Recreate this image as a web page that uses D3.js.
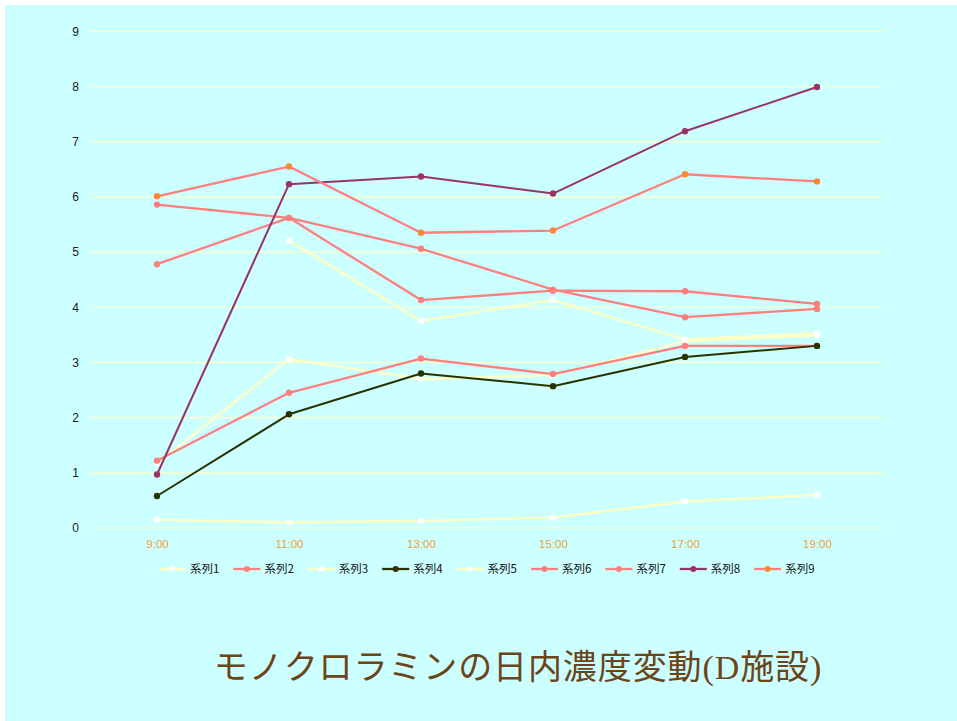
<!DOCTYPE html>
<html>
<head>
<meta charset="utf-8">
<script src="https://cdn.jsdelivr.net/npm/d3@7"></script>
<style>
  html, body { margin: 0; padding: 0; background: #ffffff; }
  svg { display: block; }
</style>
</head>
<body>
<svg id="chart" width="957" height="721"></svg>
<script>
// Time of day (categories)
const times = ["9:00", "11:00", "13:00", "15:00", "17:00", "19:00"];
const yTicks = [0, 1, 2, 3, 4, 5, 6, 7, 8, 9];

// Monochloramine concentration per series
const s1 = [1.17, 3.06, 2.70, 2.77, 3.38, 3.49];
const s2 = [1.22, 2.45, 3.07, 2.79, 3.30, 3.30];
const s3 = [null, 5.21, 3.75, 4.13, 3.42, 3.53];
const s4 = [0.58, 2.06, 2.80, 2.57, 3.10, 3.30];
const s5 = [0.15, 0.10, 0.13, 0.19, 0.48, 0.60];
const s6 = [5.86, 5.62, 5.06, 4.32, 3.82, 3.97];
const s7 = [4.78, 5.62, 4.13, 4.30, 4.29, 4.06];
const s8 = [0.97, 6.23, 6.37, 6.06, 7.19, 7.99];
const s9 = [6.01, 6.55, 5.35, 5.39, 6.41, 6.28];

const seriesNames = ["系列1", "系列2", "系列3", "系列4", "系列5", "系列6", "系列7", "系列8", "系列9"];
const seriesValues = [s1, s2, s3, s4, s5, s6, s7, s8, s9];
const lineColors   = ["#ffffc4", "#ff7f7f", "#ffffc4", "#2a3300", "#ffffc4", "#ff7f7f", "#ff7f7f", "#993366", "#ff7f7f"];
const markerColors = ["#ffffff", "#ff7f7f", "#ffffff", "#2a3300", "#ffffff", "#ff7f7f", "#ff7f7f", "#993366", "#ff8a33"];

// Title pieces: Japanese text and the Latin "(D" / ")" set in a serif face
const titleParts = [
  { text: "モノクロラミンの日内濃度変動", serif: false },
  { text: "(D", serif: true },
  { text: "施設", serif: false },
  { text: ")", serif: true }
];

const svg = d3.select("#chart");

// backdrop
svg.append("rect").attr("x", 5).attr("y", 5).attr("width", 952).attr("height", 716).attr("fill", "#ccffff");

const plot = { left: 91, right: 883, top: 31.3, bottom: 528 };

const x = d3.scalePoint().domain(times).range([plot.left, plot.right]).padding(0.5);
const y = d3.scaleLinear().domain([0, 9]).range([plot.bottom, plot.top]);

// horizontal gridlines
svg.append("g").selectAll("line").data(yTicks).join("line")
  .attr("x1", plot.left).attr("x2", plot.right)
  .attr("y1", d => y(d)).attr("y2", d => y(d))
  .attr("stroke", "#ffffc8").attr("stroke-width", 1.2);

// y axis labels
const yAxis = d3.axisLeft(y).tickValues(yTicks).tickSize(0).tickPadding(0).tickFormat(d3.format("d"));
const gy = svg.append("g").attr("transform", `translate(${plot.left - 12},0)`).call(yAxis);
gy.select(".domain").remove();
gy.selectAll("text").attr("fill", "#1a1a1a").attr("font-family", "Liberation Sans, Arial, sans-serif").attr("font-size", 12);

// x axis labels
const xAxis = d3.axisBottom(x).tickSize(0).tickPadding(0);
const gx = svg.append("g").attr("transform", `translate(0,${plot.bottom + 12})`).call(xAxis);
gx.select(".domain").remove();
gx.selectAll("text").attr("fill", "#f0a030").attr("font-family", "Liberation Sans, Arial, sans-serif").attr("font-size", 11.5);

// series lines and markers
const line = d3.line()
  .defined(d => d.v !== null)
  .x(d => x(d.t)).y(d => y(d.v));

seriesValues.forEach((vals, i) => {
  const pts = vals.map((v, j) => ({ t: times[j], v }));
  const g = svg.append("g");
  g.append("path").datum(pts).attr("d", line)
    .attr("fill", "none").attr("stroke", lineColors[i])
    .attr("stroke-width", i === 3 || i === 7 ? 2 : 2.3)
    .attr("stroke-linejoin", "round");
  g.selectAll("circle").data(pts.filter(d => d.v !== null)).join("circle")
    .attr("cx", d => x(d.t)).attr("cy", d => y(d.v)).attr("r", 3.2)
    .attr("fill", markerColors[i]);
});

// legend
const legend = svg.append("g").attr("transform", "translate(159,569)");
seriesNames.forEach((name, i) => {
  const gi = legend.append("g").attr("transform", `translate(${i * 74.4},0)`);
  gi.append("line").attr("x1", 0).attr("x2", 27).attr("y1", 0).attr("y2", 0)
    .attr("stroke", lineColors[i]).attr("stroke-width", 2.3);
  gi.append("circle").attr("cx", 13.5).attr("cy", 0).attr("r", 3).attr("fill", markerColors[i]);
  gi.append("text").attr("x", 31).attr("y", 4)
    .attr("font-family", "Noto Sans CJK JP, sans-serif").attr("font-size", 11.5)
    .attr("fill", "#111").text(name);
});

// title
const titleText = svg.append("text").attr("x", 518).attr("y", 679)
  .attr("text-anchor", "middle")
  .attr("font-family", "Noto Sans CJK JP, sans-serif").attr("font-size", 34)
  .attr("letter-spacing", 0.9)
  .attr("fill", "#6b4418");
titleParts.forEach(p => {
  titleText.append("tspan")
    .attr("font-family", p.serif ? "Liberation Serif, DejaVu Serif, serif" : "Noto Sans CJK JP, sans-serif")
    .attr("font-weight", "normal")
    .text(p.text);
});
</script>
</body>
</html>
